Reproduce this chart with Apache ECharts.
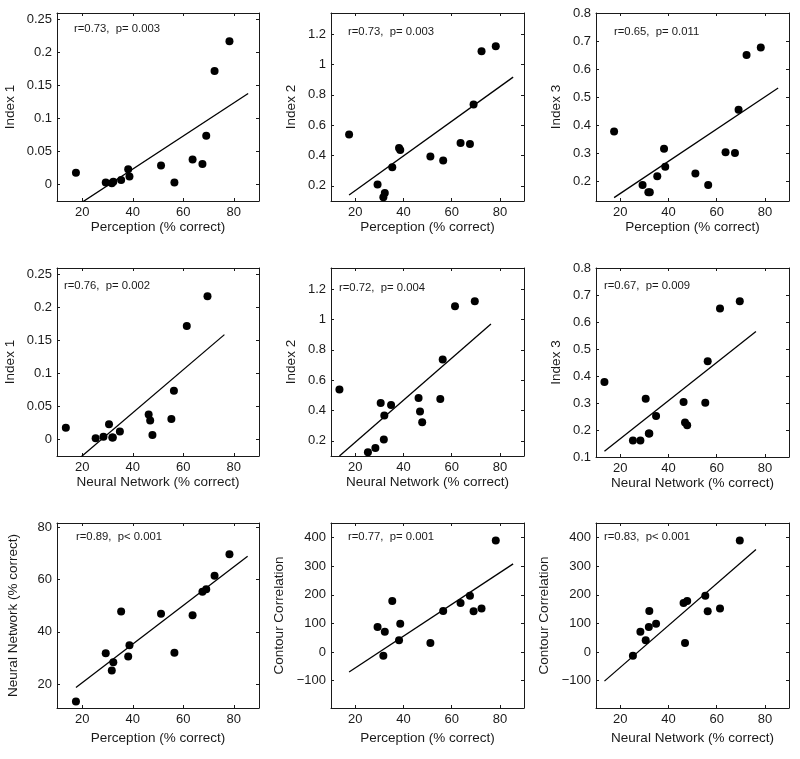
<!DOCTYPE html>
<html>
<head>
<meta charset="utf-8">
<script src="https://cdn.jsdelivr.net/npm/echarts@6/dist/echarts.min.js"></script>
<style>html,body{margin:0;background:#fff}#main{width:800px;height:759px}</style>
</head>
<body>
<div id="main"></div>
<script>
// per-subject measures (14 subjects, contour missing for the first)
var perception = [17.5, 29.3, 31.7, 32.3, 35.4, 38.2, 38.7, 51.2, 56.5, 63.7, 67.6, 69.1, 72.4, 78.3];
var neuralNet = [13.5, 31.9, 25.3, 28.4, 47.8, 30.6, 34.9, 46.9, 32.1, 46.3, 55.3, 56.3, 61.4, 69.6];
var index1 = [0.018, 0.003, 0.002, 0.004, 0.007, 0.023, 0.012, 0.029, 0.003, 0.038, 0.031, 0.074, 0.172, 0.217];
var index2 = [0.538, 0.209, 0.125, 0.152, 0.322, 0.45, 0.437, 0.393, 0.367, 0.483, 0.476, 0.737, 1.088, 1.121];
var index3 = [0.378, 0.187, 0.161, 0.161, 0.218, 0.316, 0.252, 0.228, 0.187, 0.304, 0.301, 0.455, 0.65, 0.677];
var contour = [null, 87, -13, 71, 178, 41, 99, 31, 143, 171, 197, 142, 152, 390];

// regression line end points
var fit1 = [[17.5, -0.033], [85.7, 0.138]];
var fit2 = [[17.5, 0.139], [85.5, 0.917]];
var fit3 = [[17.5, 0.142], [85.5, 0.533]];
var fit4 = [[13.5, -0.046], [76.3, 0.159]];
var fit5 = [[13.5, 0.10], [76.3, 0.97]];
var fit6 = [[13.5, 0.121], [76.3, 0.565]];
var fit7 = [[17.5, 18.8], [85.5, 68.8]];
var fit8 = [[17.5, -70], [85.5, 308]];
var fit9 = [[13.5, -102], [76.3, 358]];

// tick labels
var xTicks = [20, 40, 60, 80];
var index1Ticks = [0, 0.05, 0.1, 0.15, 0.2, 0.25];
var index2Ticks = [0.2, 0.4, 0.6, 0.8, 1, 1.2];
var index3TicksA = [0.2, 0.3, 0.4, 0.5, 0.6, 0.7, 0.8];
var index3TicksB = [0.1, 0.2, 0.3, 0.4, 0.5, 0.6, 0.7, 0.8];
var nnTicks = [20, 40, 60, 80];
var contourTicks = [-100, 0, 100, 200, 300, 400];

var notes = ['r=0.73,  p= 0.003', 'r=0.73,  p= 0.003', 'r=0.65,  p= 0.011',
             'r=0.76,  p= 0.002', 'r=0.72,  p= 0.004', 'r=0.67,  p= 0.009',
             'r=0.89,  p< 0.001', 'r=0.77,  p= 0.001', 'r=0.83,  p< 0.001'];

var PER = 'Perception (% correct)', NN = 'Neural Network (% correct)';

var panels = [
  {x: perception, y: index1, fit: fit1, xName: PER, yName: 'Index 1', yMin: -0.025, yMax: 0.26, yTicks: index1Ticks,
   box: [57, 13, 202, 188], note: [17, 16], yGap: 40, xGap: 13},
  {x: perception, y: index2, fit: fit2, xName: PER, yName: 'Index 2', yMin: 0.1, yMax: 1.34, yTicks: index2Ticks,
   box: [331, 13, 193, 188], note: [17, 19], yGap: 33, xGap: 13},
  {x: perception, y: index3, fit: fit3, xName: PER, yName: 'Index 3', yMin: 0.13, yMax: 0.8, yTicks: index3TicksA,
   box: [596, 13, 193, 188], note: [18, 19], yGap: 33, xGap: 13},
  {x: neuralNet, y: index1, fit: fit4, xName: NN, yName: 'Index 1', yMin: -0.025, yMax: 0.26, yTicks: index1Ticks,
   box: [57, 268, 202, 188], note: [7, 18], yGap: 40, xGap: 19},
  {x: neuralNet, y: index2, fit: fit5, xName: NN, yName: 'Index 2', yMin: 0.1, yMax: 1.34, yTicks: index2Ticks,
   box: [331, 268, 193, 188], note: [8, 20], yGap: 33, xGap: 19},
  {x: neuralNet, y: index3, fit: fit6, xName: NN, yName: 'Index 3', yMin: 0.1, yMax: 0.8, yTicks: index3TicksB,
   box: [596, 268, 193, 189], note: [8, 18], yGap: 33, xGap: 19},
  {x: perception, y: neuralNet, fit: fit7, xName: PER, yName: NN, yMin: 11, yMax: 81.5, yTicks: nnTicks,
   box: [57, 523, 202, 185], note: [19, 14], yGap: 37, xGap: 23},
  {x: perception, y: contour, fit: fit8, xName: PER, yName: 'Contour Correlation', yMin: -196, yMax: 451, yTicks: contourTicks,
   box: [331, 523, 193, 185], note: [17, 14], yGap: 45, xGap: 23},
  {x: neuralNet, y: contour, fit: fit9, xName: NN, yName: 'Contour Correlation', yMin: -196, yMax: 451, yTicks: contourTicks,
   box: [596, 523, 193, 185], note: [8, 14], yGap: 45, xGap: 23}
];

var FONT = 'Liberation Sans';
var INK = '#1a1a1a';

function fmt(v) {
  return String(v).replace('-', '\u2212');
}

var grid = [], xAxis = [], yAxis = [], series = [], graphic = [];

panels.forEach(function (p, i) {
  grid.push({left: p.box[0], top: p.box[1], width: p.box[2], height: p.box[3]});
  var line = {show: true, onZero: false, lineStyle: {color: INK, width: 1}};
  var tick = {show: true, inside: true, length: 3, lineStyle: {color: INK}};
  // bottom / top
  xAxis.push({
    type: 'value', gridIndex: i, min: 10, max: 90, position: 'bottom',
    axisLine: line, splitLine: {show: false},
    axisTick: Object.assign({customValues: xTicks}, tick),
    axisLabel: {customValues: xTicks, fontFamily: FONT, fontSize: 13, color: INK, margin: 5},
    name: p.xName, nameLocation: 'middle', nameGap: p.xGap,
    nameTextStyle: {fontFamily: FONT, fontSize: 13.5, color: INK, verticalAlign: 'top'}
  });
  xAxis.push({
    type: 'value', gridIndex: i, min: 10, max: 90, position: 'top',
    axisLine: line, splitLine: {show: false},
    axisTick: Object.assign({customValues: xTicks}, tick),
    axisLabel: {show: false}
  });
  // left / right
  yAxis.push({
    type: 'value', gridIndex: i, min: p.yMin, max: p.yMax, position: 'left',
    axisLine: line, splitLine: {show: false},
    axisTick: Object.assign({customValues: p.yTicks}, tick),
    axisLabel: {customValues: p.yTicks, fontFamily: FONT, fontSize: 13, color: INK, margin: 5, formatter: fmt},
    name: p.yName, nameLocation: 'middle', nameGap: p.yGap,
    nameTextStyle: {fontFamily: FONT, fontSize: 13.5, color: INK}
  });
  yAxis.push({
    type: 'value', gridIndex: i, min: p.yMin, max: p.yMax, position: 'right',
    axisLine: line, splitLine: {show: false},
    axisTick: Object.assign({customValues: p.yTicks}, tick),
    axisLabel: {show: false}
  });

  var pts = p.x.map(function (v, k) { return [v, p.y[k]]; })
    .filter(function (d) { return d[1] !== null; });

  series.push({
    type: 'line', xAxisIndex: 2 * i, yAxisIndex: 2 * i,
    data: p.fit, showSymbol: false, clip: true, silent: true,
    lineStyle: {color: '#000', width: 1.3}
  });
  series.push({
    type: 'scatter', xAxisIndex: 2 * i, yAxisIndex: 2 * i,
    data: pts, symbolSize: 8, itemStyle: {color: '#000', opacity: 1}
  });

  graphic.push({
    type: 'text', left: p.box[0] + p.note[0], top: p.box[1] + p.note[1] - 6,
    style: {text: notes[i], fontFamily: FONT, fontSize: 11.3, fill: INK}
  });
});

var myChart = echarts.init(document.getElementById('main'));
myChart.setOption({
  animation: false,
  backgroundColor: '#fff',
  grid: grid,
  xAxis: xAxis,
  yAxis: yAxis,
  series: series,
  graphic: graphic
});
</script>
</body>
</html>
